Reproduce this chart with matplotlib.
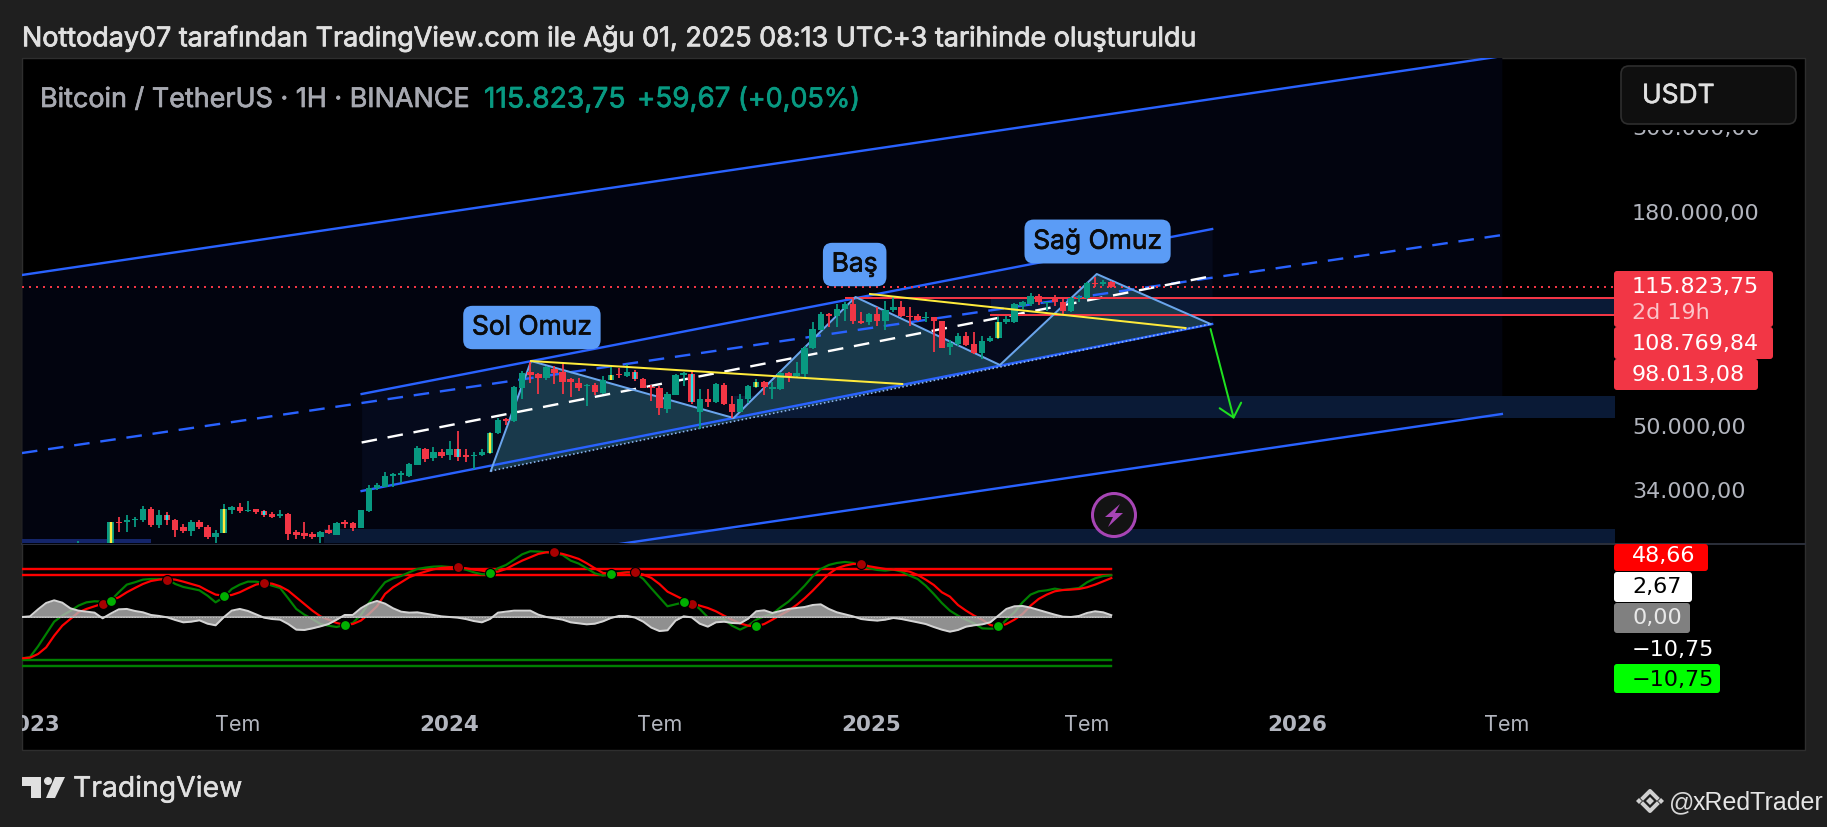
import numpy as np
import matplotlib
matplotlib.use("Agg")
import matplotlib.pyplot as plt
import matplotlib.patheffects as pe
from matplotlib.patches import FancyBboxPatch, Rectangle, Circle, Polygon
from matplotlib.ticker import NullLocator
from matplotlib.transforms import Bbox, ScaledTranslation

plt.rcParams["font.family"] = ["Inter", "DejaVu Sans"]

# weekly candles, first one is the week of 2 Jan 2023
opens = [16620, 16950, 20870, 22700, 23030, 23320, 21860, 24630, 23170, 22350,
         20470, 28440, 28340, 28620, 28620, 30700, 27890, 29620, 28780, 27500,
         26940, 28340, 27500, 26000, 26550, 30400, 31000, 30280, 30640, 30280,
         29800, 29320, 29680, 26660, 26550, 26380, 26000, 27100, 26270, 28340,
         28200, 27390, 30280, 34670, 35070, 37270, 37550, 37420, 40010, 44000,
         41520, 43160, 42340, 43820, 42340, 42040, 42340, 42840, 48220, 52500,
         51800, 63120, 69540, 68850, 67100, 70900, 69540, 66700, 65100, 63860,
         64350, 61340, 66320, 68850, 67900, 69800, 66700, 63490, 63120, 55700,
         60800, 68450, 68600, 54900, 59100, 58200, 64500, 57450, 54900, 59100,
         63490, 65660, 62900, 62900, 69270, 68160, 68850, 80600, 89700, 98600,
         97100, 101600, 104600, 94700, 93800, 98600, 94700, 101200, 102600, 97500,
         97500, 96000, 96500, 94300, 81100, 82400, 86500, 82400, 77800, 84000,
         85200, 93800, 93800, 103200, 104600, 109600, 105200, 107600, 105600, 100600,
         108600, 108600, 118500, 117800, 119400]
highs = [17180, 21260, 23370, 23820, 24250, 23450, 25250, 25020, 23880, 22600,
         28400, 29190, 29500, 29140, 31300, 31000, 30400, 30100, 28900, 28000,
         28620, 28620, 27780, 27100, 31600, 31300, 31780, 32100, 30700, 30400,
         30100, 30520, 30000, 27050, 28340, 26770, 26940, 27780, 28300, 28780,
         28340, 30500, 35340, 35900, 38160, 38000, 38520, 40300, 44640, 44100,
         44480, 43820, 46060, 48850, 43820, 43000, 43820, 48580, 53000, 53000,
         64100, 70220, 73860, 69270, 72300, 72300, 73100, 67000, 67000, 64700,
         65300, 68000, 72300, 71200, 73100, 70630, 67000, 64350, 63860, 61600,
         68850, 69800, 70220, 62900, 62900, 65200, 65200, 60200, 61000, 64350,
         66700, 66000, 65400, 69800, 69800, 73860, 81400, 93700, 99600, 99200,
         104600, 105600, 108600, 99600, 99000, 102600, 106600, 110000, 106600, 102600,
         98800, 99600, 96800, 94700, 84500, 87800, 88600, 88600, 86200, 86500,
         96500, 97500, 105200, 106600, 112000, 111000, 106100, 110200, 108000, 109200,
         110200, 119000, 123000, 120800, 120100]
lows = [16540, 16900, 20400, 22500, 22500, 21400, 21530, 22750, 21970, 19550,
        19950, 26650, 26660, 27500, 28420, 27500, 27320, 27890, 26000, 26550,
        26100, 27220, 25560, 25000, 26500, 29800, 30000, 30100, 29800, 29200,
        29080, 29020, 25430, 25650, 25650, 25560, 25000, 26380, 26200, 27320,
        26830, 27300, 30100, 34400, 34870, 35070, 35730, 37050, 40000, 40560,
        40950, 41520, 41200, 40950, 40710, 39050, 42040, 42670, 47950, 50700,
        51500, 59100, 65000, 61000, 66560, 64700, 61000, 59900, 62300, 56900,
        60700, 61000, 66300, 67100, 67500, 66000, 63120, 58500, 53700, 54400,
        60700, 63860, 57450, 49500, 56350, 58000, 57000, 53000, 54700, 57800,
        63120, 60500, 59100, 62700, 65400, 67500, 67500, 80100, 89300, 91000,
        91000, 94700, 93000, 92800, 92000, 91600, 89700, 99600, 96500, 91500,
        94700, 93800, 78600, 80300, 77100, 81600, 81600, 77500, 75400, 83500,
        84800, 93000, 93400, 101600, 103200, 104000, 100600, 103200, 97500, 100000,
        105600, 108000, 116000, 116700, 114800]
closes = [16950, 20870, 22700, 23030, 23320, 21860, 24630, 23170, 22350, 20470,
          28300, 28200, 28620, 28900, 30700, 27890, 29620, 28620, 27100, 26940,
          28340, 27500, 26000, 26550, 30700, 31000, 30220, 30520, 30100, 29500,
          29200, 29800, 26380, 26270, 26100, 26000, 26770, 26550, 28200, 28060,
          27320, 30400, 34670, 35340, 37270, 37700, 38010, 40230, 44070, 41360,
          43160, 42200, 43990, 41770, 41770, 42340, 43160, 48400, 52300, 52000,
          63490, 69270, 68450, 67230, 71600, 69270, 65700, 65700, 63120, 64350,
          61600, 66320, 68450, 68450, 69800, 66700, 63370, 63120, 56000, 61000,
          68450, 69270, 58200, 59100, 58200, 64700, 57450, 54900, 59300, 63860,
          65660, 63490, 63490, 69270, 68160, 69270, 80600, 90100, 98600, 97100,
          101600, 104600, 94700, 93400, 98600, 94700, 101200, 102600, 97500, 96700,
          95200, 96800, 94700, 80600, 82900, 86500, 81900, 77800, 84000, 85200,
          93800, 95600, 104600, 106000, 110000, 105600, 106000, 106000, 100600, 108600,
          109400, 118500, 117800, 119400, 115823.75]
yellow_weeks = [10, 24, 57, 72, 90, 120]
cyan_weeks = [17, 29, 53, 75, 82]

# indicator pane, first value is the week before the first candle
wt_fast = [-50.9, -49.3, -36.0, -20.7, -5.4, 2.1, 7.9, 14.5, 18.6, 19.9, 19.5, 20.7,
           31.1, 40.6, 43.5, 46.8, 47.6, 47.6, 47.6, 41.4, 37.7, 35.6, 33.5, 26.9,
           18.6, 24.8, 35.2, 40.6, 44.3, 44.3, 42.6, 39.3, 36.4, 23.6, 10.4, 3.3,
           -2.1, -8.3, -10.4, -12.0, -9.5, -7.0, 2.9, 17.8, 31.1, 43.5, 48.4, 51.3,
           55.9, 60.0, 61.7, 62.9, 63.3, 62.5, 62.1, 59.2, 55.9, 53.4, 53.8, 60.9,
           65.0, 71.6, 78.2, 82.0, 81.6, 80.7, 79.9, 77.4, 70.4, 66.7, 60.9, 54.6,
           51.8, 53.4, 55.1, 55.9, 55.1, 47.6, 36.0, 24.8, 13.7, 16.1, 18.6, 18.6,
           10.4, 0.0, -1.2, -2.1, -10.4, -15.3, -10.4, -2.9, 1.2, 4.1, 12.4, 19.5,
           29.0, 39.3, 50.9, 60.0, 65.0, 67.5, 68.7, 67.5, 64.2, 60.9, 58.8, 58.0,
           59.2, 56.7, 51.8, 47.6, 39.3, 29.0, 17.8, 8.3, 2.1, -2.9, -7.5, -13.7,
           -14.1, -13.7, -2.9, 6.2, 18.6, 28.2, 32.3, 33.5, 35.6, 33.9, 35.2, 36.4,
           43.5, 48.4, 51.3, 52.2]
wt_slow = [-50.9, -50.1, -45.5, -37.3, -22.8, -10.4, -2.1, 6.2, 10.4, 13.7, 17.0, 20.7,
           24.8, 31.1, 36.4, 41.4, 45.1, 46.8, 47.6, 46.8, 44.3, 41.4, 38.5, 33.1,
           28.2, 26.9, 27.7, 31.1, 36.0, 40.6, 42.6, 41.8, 38.5, 33.1, 24.8, 16.6,
           8.3, 1.2, -2.9, -7.0, -9.1, -8.3, -4.1, 4.1, 13.7, 29.0, 37.3, 43.5,
           49.7, 53.8, 56.7, 59.6, 61.3, 62.1, 62.1, 60.9, 59.2, 58.0, 55.9, 56.7,
           60.0, 65.4, 70.4, 74.5, 78.7, 80.7, 80.7, 78.7, 75.8, 72.5, 67.1, 60.9,
           55.1, 53.8, 54.6, 55.9, 55.9, 53.0, 48.9, 41.4, 31.9, 26.9, 21.9, 17.8,
           14.5, 11.6, 7.5, 2.1, -2.9, -7.5, -10.4, -11.2, -8.3, -2.9, 2.9, 8.3,
           15.3, 23.6, 33.1, 43.5, 53.8, 60.9, 64.2, 66.2, 66.2, 63.3, 61.7, 60.0,
           59.2, 58.4, 56.7, 52.6, 46.8, 40.2, 31.1, 25.7, 15.3, 8.3, 2.1, -2.9,
           -9.5, -11.6, -8.3, -2.9, 4.1, 14.5, 22.8, 28.2, 32.3, 33.9, 34.4, 35.2,
           37.3, 40.6, 44.7, 48.66]
wt_hist = [0.4, 1.2, 9.9, 17.8, 21.1, 18.2, 11.2, 8.3, 7.0, 5.8, -1.2, 4.6,
           9.9, 10.4, 7.9, 6.2, 2.9, 1.7, 0.0, -3.3, -6.2, -5.4, -3.7, -7.9,
           -9.9, 0.0, 8.3, 10.4, 7.9, 3.7, -0.4, -2.1, -2.9, -8.3, -15.3, -15.7,
           -13.7, -11.2, -8.3, -2.9, 2.9, 2.9, 11.2, 17.0, 20.3, 17.0, 11.2, 7.0,
           5.8, 6.2, 4.6, 2.9, 1.2, 0.4, -0.4, -2.1, -4.6, -6.2, -2.1, 5.8,
           7.0, 8.3, 8.3, 8.3, 3.3, 0.4, -1.2, -2.9, -6.2, -7.5, -8.7, -7.9,
           -5.0, -0.8, 1.7, 1.7, -0.4, -5.4, -12.8, -17.0, -16.1, -4.1, 1.2, 0.0,
           -7.9, -11.6, -6.2, -5.4, -7.0, -7.5, -1.7, 7.5, 8.7, 5.4, 7.9, 10.4,
           11.6, 12.8, 15.3, 16.1, 10.4, 6.2, 3.7, 1.2, -2.1, -3.3, -4.1, -2.9,
           -0.8, -2.1, -4.1, -6.2, -8.3, -12.0, -15.3, -17.8, -15.7, -11.6, -9.9, -8.7,
           -6.2, 2.1, 10.4, 13.7, 14.1, 12.0, 9.1, 6.2, 3.3, 0.8, 0.4, 1.7,
           5.4, 7.5, 6.2, 2.67]
sell_dot_weeks = [9, 17, 29, 53, 65, 75, 82, 103]
sell_dot_values = [16.6, 46.8, 42.2, 62.1, 80.7, 55.9, 16.6, 66.7]
buy_dot_weeks = [10, 24, 39, 57, 72, 81, 90, 120]
buy_dot_values = [19.9, 26.1, -9.5, 55.5, 54.2, 18.6, -11.2, -11.2]
upper_levels = [60, 53]
lower_levels = [-53, -60]

# drawings on the price pane, as (week, price)
channel_weeks = [-1, 182.4]
channel_top = [124460, 461500]
channel_mid = [42860, 158100]
channel_bottom = [14670, 54150]
inner_weeks = [41.1, 146.5]
inner_top = [61030, 163900]
inner_mid = [45650, 123700]
inner_bottom = [34140, 92810]
pattern_weeks = [57.1, 62.1, 87.2, 102.3, 120.2, 132.2, 146.3]
pattern_prices = [38490, 74360, 52860, 109100, 72610, 125200, 92810]
yellow1_weeks = [62.1, 108.1]
yellow1_prices = [74360, 64800]
yellow2_weeks = [104.1, 143.2]
yellow2_prices = [111070, 90610]
arrow_weeks = [146.3, 149.2]
arrow_prices = [90060, 52550]
last_price = 115823.75
resistance_price = 108769.84
resistance_week = 101.1
support_price = 98013.08
support_week = 119.1
zone_weeks = [87.2, 36.4, -1]
zone_tops = [60300, 27200, 25610]
zone_bottoms = [52860, 25010, 25010]
zone_ends = [197, 197, 15]
zone_colors = ["#0a1a36", "#0a1a36", "#14256a"]
pattern_labels = ["Sol Omuz", "Baş", "Sağ Omuz"]
label_weeks = [62.2, 102.2, 132.3]
label_prices = [90880, 132530, 152100]

# axis labels
price_ticks = [300000, 180000, 50000, 34000]
price_tick_labels = ["300.000,00", "180.000,00", "50.000,00", "34.000,00"]
time_ticks = [0, 25.7, 52, 78, 104.3, 131, 157, 183]
time_tick_labels = ["2023", "Tem", "2024", "Tem", "2025", "Tem", "2026", "Tem"]

UP = "#089981"
DOWN = "#f23645"
BLUE = "#2962ff"
PX = 1 / 100  # one pixel in inches, dpi is 100
LW = 0.72  # one pixel in points
SCALE_FONT = "DejaVu Sans"  # its wide digits are close to the spaced out scale labels

fig = plt.figure(figsize=(18.27, 8.28), dpi=100, facecolor="#1f1f1f")


def pane(left, top, right, bottom, zorder):
    a = fig.add_axes([left / 1827, 1 - bottom / 828, (right - left) / 1827, (bottom - top) / 828], zorder=zorder)
    a.set_facecolor("none")
    for s in a.spines.values():
        s.set_visible(False)
    return a


# frame behind the panes
back = pane(0, 0, 1827, 828, 0)
back.set_xlim(0, 1827)
back.set_ylim(828, 0)
back.axis("off")
back.add_patch(Rectangle((22, 59), 1783, 692, facecolor="black", edgecolor="#2e2e2e", linewidth=1))
back.plot([22, 1805], [544.5, 544.5], color="#2a2e39", linewidth=2 * LW)

# price pane
ax = pane(22, 59, 1614, 544, 1)
ax.set_yscale("log")
ax.set_xlim(-0.99, 196.3)
ax.set_ylim(25010, 456400)

ax.fill_between(channel_weeks, channel_bottom, channel_top, color="#02040f", linewidth=0, zorder=1)
ax.fill_between(inner_weeks, inner_bottom, inner_top, color="#050a1c", linewidth=0, zorder=1.1)
for start, top_price, bottom_price, end, color in zip(zone_weeks, zone_tops, zone_bottoms, zone_ends, zone_colors):
    ax.fill_between([start, end], bottom_price, top_price, color=color, linewidth=0, zorder=1.2)
ax.fill_between([support_week, 197], support_price, resistance_price, color="#0a1a36", linewidth=0, zorder=1.2)
ax.add_patch(Polygon(list(zip(pattern_weeks, pattern_prices)), closed=True, facecolor="#19394b", edgecolor="none", zorder=1.5))

# candles
weeks = np.arange(len(closes))
o = np.array(opens, dtype=float)
c = np.array(closes, dtype=float)
colors = [UP if b >= a else DOWN for a, b in zip(o, c)]
ax.vlines(weeks, lows, highs, colors=colors, linewidth=1.8 * LW, zorder=3)
ax.bar(weeks, np.abs(c - o), bottom=np.minimum(o, c), width=0.8, color=colors, linewidth=0, zorder=3.1)
for w in yellow_weeks:
    ax.vlines(w, min(o[w], c[w]), max(o[w], c[w]), colors="#ffeb3b", linewidth=2.4 * LW, zorder=3.2)
for w in cyan_weeks:
    ax.vlines(w, min(o[w], c[w]), max(o[w], c[w]), colors="#22e0e8", linewidth=2.4 * LW, zorder=3.2)

# channels
dash = (0, (6.5, 4.5))
ax.plot(channel_weeks, channel_top, color=BLUE, linewidth=2.4 * LW, zorder=2)
ax.plot(channel_weeks, channel_mid, color=BLUE, linewidth=2.4 * LW, linestyle=dash, zorder=2)
ax.plot(channel_weeks, channel_bottom, color=BLUE, linewidth=2.4 * LW, zorder=2)
ax.plot(inner_weeks, inner_top, color=BLUE, linewidth=2.4 * LW, zorder=2)
ax.plot(inner_weeks, inner_bottom, color=BLUE, linewidth=2.4 * LW, zorder=2)
ax.plot(inner_weeks, inner_mid, color="white", linewidth=2.4 * LW, linestyle=dash, zorder=2.2)

# horizontal price lines
ax.plot([-1, 197], [last_price, last_price], color=DOWN, linewidth=2 * LW, linestyle=(0, (1, 2.5)), zorder=2.4)
ax.plot([resistance_week, 197], [resistance_price, resistance_price], color=DOWN, linewidth=2 * LW, zorder=2.4)
ax.plot([support_week, 197], [support_price, support_price], color=DOWN, linewidth=2 * LW, zorder=2.4)

# head and shoulders outline
ax.plot(pattern_weeks, pattern_prices, color="#6aa5ec", linewidth=2 * LW, zorder=2.9)
ax.plot([pattern_weeks[0], pattern_weeks[-1]], [pattern_prices[0], pattern_prices[-1]], color="#8db6f2",
        linewidth=1.6 * LW, linestyle=(0, (1, 1.5)), zorder=2.9)
ax.plot(yellow1_weeks, yellow1_prices, color="#ffeb3b", linewidth=2 * LW, zorder=3.5)
ax.plot(yellow2_weeks, yellow2_prices, color="#ffeb3b", linewidth=2 * LW, zorder=3.5)
ax.annotate("", xy=(arrow_weeks[1], arrow_prices[1]), xytext=(arrow_weeks[0], arrow_prices[0]),
            arrowprops=dict(arrowstyle="->,head_length=0.45,head_width=0.4", mutation_scale=20, color="#1fe01f",
                            linewidth=2 * LW, shrinkA=0, shrinkB=0), zorder=4)

for text, w, p in zip(pattern_labels, label_weeks, label_prices):
    t = ax.text(w, p, text, ha="center", va="center", fontsize=19, color="#0b0b0b", zorder=5,
                bbox=dict(boxstyle="round,pad=0.33,rounding_size=0.35", facecolor="#5b9cf6", edgecolor="none"))
    t.set_path_effects([pe.withStroke(linewidth=0.5, foreground="#0b0b0b")])

ax.set_xticks([])
ax.yaxis.tick_right()
ax.set_yticks(price_ticks)
ax.set_yticklabels(price_tick_labels, family=SCALE_FONT)
ax.yaxis.set_minor_locator(NullLocator())
ax.tick_params(axis="y", length=0, pad=13, labelsize=16, labelcolor="#b2b5be")
for lab in ax.get_yticklabels():
    lab.set_transform(lab.get_transform() + ScaledTranslation(0, 2.5 * PX, fig.dpi_scale_trans))

# indicator pane
wt_weeks = np.arange(-1, len(closes))
ind = pane(22, 545, 1614, 696, 1)
ind.set_xlim(-0.99, 196.3)
ind.set_ylim(-96.4, 91)
for level in upper_levels:
    ind.plot([-1, weeks[-1]], [level, level], color="#ff0000", linewidth=2.4 * LW, zorder=1)
for level in lower_levels:
    ind.plot([-1, weeks[-1]], [level, level], color="#008000", linewidth=2.4 * LW, zorder=1)
ind.plot(wt_weeks, wt_fast, color="#008000", linewidth=2.2 * LW, zorder=2)
ind.plot(wt_weeks, wt_slow, color="#ff0000", linewidth=2.2 * LW, zorder=2.1)
ind.fill_between(wt_weeks, 0, wt_hist, color="#b5b5b5", alpha=0.8, linewidth=0, zorder=2.5)
ind.plot(wt_weeks, wt_hist, color="#d4d4d4", linewidth=2 * LW, zorder=2.6)
ind.plot([-1, weeks[-1]], [0, 0], color="#8a8a8a", linewidth=2 * LW, zorder=2.4)
ind.plot([-1, weeks[-1]], [0, 0], color="#d0d0d0", linewidth=0.7 * LW, linestyle=(0, (2, 2)), zorder=2.7)
ind.plot(sell_dot_weeks, sell_dot_values, linestyle="none", marker="o", markersize=10 * LW,
         markerfacecolor="#a80000", markeredgecolor="black", markeredgewidth=1.2 * LW, zorder=3)
ind.plot(buy_dot_weeks, buy_dot_values, linestyle="none", marker="o", markersize=10 * LW,
         markerfacecolor="#00b000", markeredgecolor="black", markeredgewidth=1.2 * LW, zorder=3)
ind.set_yticks([])
ind.set_xticks(time_ticks)
ind.set_xticklabels(time_tick_labels)
ind.tick_params(axis="x", length=0, pad=14, labelsize=15.5, labelcolor="#b2b5be")
frame_clip = Bbox([[22, 0], [1614, 828]])
for lab in ind.get_xticklabels():
    if lab.get_text() != "Tem":
        lab.set_family(SCALE_FONT)
        lab.set_fontweight("bold")
    lab.set_clip_box(frame_clip)
    lab.set_clip_on(True)

# everything that sits on top of the panes, in pixels
top = pane(0, 0, 1827, 828, 5)
top.set_xlim(0, 1827)
top.set_ylim(828, 0)
top.axis("off")


def box(x0, y0, x1, y1, color, edge="none"):
    top.add_patch(FancyBboxPatch((x0, y0), x1 - x0, y1 - y0, boxstyle="round,pad=0,rounding_size=3",
                                 facecolor=color, edgecolor=edge, linewidth=1, zorder=1))


def label(x, y, text, color, size=16, family=SCALE_FONT, stroke=0.0):
    t = top.text(x, y + 1, text, color=color, fontsize=size, family=family, va="center", ha="left", zorder=2)
    if stroke:
        t.set_path_effects([pe.withStroke(linewidth=stroke, foreground=color)])
    return t


label(22, 39, "Nottoday07 tarafından TradingView.com ile Ağu 01, 2025 08:13 UTC+3 tarihinde oluşturuldu",
      "#e0e0e0", size=19.4, family="Inter", stroke=0.6)
label(40, 100, "Bitcoin / TetherUS · 1H · BINANCE", "#a6a8b0", size=19.4, family="Inter", stroke=0.5)
label(484, 100, "115.823,75", UP, size=20.3, family="Inter", stroke=0.5)
label(637, 100, "+59,67", UP, size=20, family="Inter", stroke=0.5)
label(738, 100, "(+0,05%)", UP, size=19.4, family="Inter", stroke=0.5)

# hides the top scale label, only its lowest pixels show under the currency box
top.add_patch(Rectangle((1621, 100), 175, 31, facecolor="black", edgecolor="none", zorder=0.5))
top.add_patch(FancyBboxPatch((1621, 67), 175, 58, boxstyle="round,pad=0,rounding_size=8", facecolor="#0f0f0f", edgecolor="#2e2e2e", linewidth=1.2, zorder=1))
label(1642, 96, "USDT", "#e0e0e0", size=19, family="Inter", stroke=0.4)

box(1614, 272, 1773, 328, DOWN)
box(1614, 328, 1773, 360, DOWN)
box(1614, 360, 1758, 391, DOWN)
label(1632, 286, "115.823,75", "white")
label(1632, 312, "2d 19h", "#fbc4c9")
label(1632, 343, "108.769,84", "white")
label(1632, 374, "98.013,08", "white")

box(1614, 545, 1708, 572, "#ff0000")
box(1614, 573, 1692, 603, "white")
box(1614, 604, 1690, 634, "#808080")
box(1614, 665, 1720, 694, "#00ff00")
label(1632, 555, "48,66", "white")
label(1632, 586, "2,67", "black")
label(1632, 617, "0,00", "#e8e8e8")
label(1632, 649, "\u221210,75", "white")
label(1632, 679, "\u221210,75", "black")

# purple alert badge
top.add_patch(Circle((1114, 516), 21.5, facecolor="#131313", edgecolor="#a745b5", linewidth=3 * LW, zorder=1))
top.add_patch(Polygon([(1120, 505), (1105, 518), (1113, 518), (1108, 528), (1123, 514), (1115, 514)], closed=True, facecolor="#a745b5", zorder=2))

# tradingview logo
top.add_patch(Polygon([(22, 778), (41, 778), (41, 799), (31, 799), (31, 787), (22, 787)], closed=True, facecolor="#e0e0e0", zorder=2))
top.add_patch(Circle((48, 782), 4, facecolor="#e0e0e0", zorder=2))
top.add_patch(Polygon([(55, 778), (65, 778), (55, 799), (46, 799)], closed=True, facecolor="#e0e0e0", zorder=2))
label(73, 789, "TradingView", "#e0e0e0", size=20.4, family="Inter", stroke=0.3)

# watermark
for cx, cy, r in [(1650, 802, 4), (1639, 802, 3), (1661, 802, 3)]:
    top.add_patch(Polygon([(cx - r, cy), (cx, cy - r), (cx + r, cy), (cx, cy + r)], closed=True, facecolor="#d0d0d0", zorder=2))
top.plot([1643, 1650, 1657], [799, 792, 799], color="#d0d0d0", linewidth=4 * LW, zorder=2)
top.plot([1643, 1650, 1657], [805, 812, 805], color="#d0d0d0", linewidth=4 * LW, zorder=2)
label(1669, 802, "@", "#d8d8d8", size=18, family="Liberation Sans")
label(1693, 802, "xRedTrader", "#e6e6e6", size=18, family="Liberation Sans")

fig.savefig("out.png", dpi=100, facecolor=fig.get_facecolor())
